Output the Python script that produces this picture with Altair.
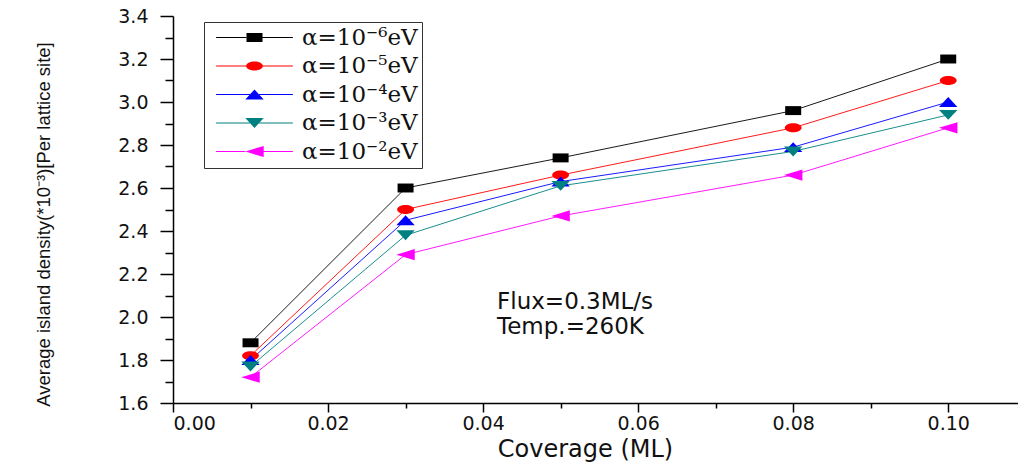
import altair as alt
import pandas as pd

# Coverage values (ML) at which island density was sampled
coverage = [0.01, 0.03, 0.05, 0.08, 0.10]

# Series labels (diffusion barrier modifier alpha)
series = ["α=10⁻⁶eV", "α=10⁻⁵eV", "α=10⁻⁴eV", "α=10⁻³eV", "α=10⁻²eV"]

# Average island density (*10^-3 per lattice site) per series
dens_1e6 = [1.88, 2.60, 2.74, 2.96, 3.20]
dens_1e5 = [1.82, 2.50, 2.66, 2.88, 3.10]
dens_1e4 = [1.80, 2.45, 2.63, 2.79, 3.00]
dens_1e3 = [1.77, 2.38, 2.61, 2.77, 2.94]
dens_1e2 = [1.72, 2.29, 2.47, 2.66, 2.88]

colors = ["#000000", "#ff0000", "#0000ff", "#008080", "#ff00ff"]

# Axis tick positions
x_major = [0.0, 0.02, 0.04, 0.06, 0.08, 0.10]
x_minor = [0.01, 0.03, 0.05, 0.07, 0.09]
y_major = [1.6, 1.8, 2.0, 2.2, 2.4, 2.6, 2.8, 3.0, 3.2, 3.4]
y_minor = [1.7, 1.9, 2.1, 2.3, 2.5, 2.7, 2.9, 3.1, 3.3]

# Annotation text
note_lines = ["Flux=0.3ML/s", "Temp.=260K"]
note_x = [0.0418, 0.0418]
note_y = [2.07, 1.953]

# Marker outlines (unit box, scaled by the symbol size)
marker_paths = [
    "M-1,-0.56H1V0.56H-1Z",
    "M-1.05,0A1.05,0.56 0 1,0 1.05,0A1.05,0.56 0 1,0 -1.05,0Z",
    "M0,-0.62L1.15,0.62H-1.15Z",
    "M0,0.62L1.15,-0.62H-1.15Z",
    "M-1.15,0L1.15,-0.7V0.7Z",
]
# Half-width of each marker along its centre line
marker_edges = [1.0, 1.05, 0.575, 0.575, 1.15]


def legend_symbol(path, edge, reach=4.8, half=0.065):
    # thin filled bars left and right of the marker stand in for the line
    left = f"M{-reach},{-half}H{-edge}V{half}H{-reach}Z"
    right = f"M{edge},{-half}H{reach}V{half}H{edge}Z"
    return left + right + path


legend_paths = [legend_symbol(p, e) for p, e in zip(marker_paths, marker_edges)]

all_dens = [dens_1e6, dens_1e5, dens_1e4, dens_1e3, dens_1e2]
rows = []
for name, vals in zip(series, all_dens):
    for c, v in zip(coverage, vals):
        rows.append({"coverage": c, "density": v, "series": name})
df = pd.DataFrame(rows)

notes = pd.DataFrame({"x": note_x, "y": note_y, "text": note_lines})

xscale = alt.Scale(domain=[0, 0.109], nice=False, zero=False)
yscale = alt.Scale(domain=[1.6, 3.4], nice=False, zero=False)
cscale = alt.Scale(domain=series, range=colors)

label_font = "DejaVu Sans"

x_axis_major = alt.Axis(
    orient="bottom", values=x_major, format=".2f", tickSize=9, tickWidth=1.5,
    domainWidth=1.5, domainColor="#000", tickColor="#000",
    labelFont=label_font, labelFontSize=19, labelColor="#111", labelPadding=2,
    title="Coverage (ML)", titleFont=label_font, titleFontSize=24,
    titleFontWeight="normal", titleColor="#111",
    titleX=412, titleY=46, titleBaseline="middle", titleAlign="center",
)
y_axis_major = alt.Axis(
    orient="left", values=y_major, format=".1f", tickSize=13, tickWidth=1.5,
    domainWidth=1.5, domainColor="#000", tickColor="#000",
    labelFont=label_font, labelFontSize=19, labelColor="#111", labelPadding=12,
    title="Average island density(*10⁻³)[Per lattice site]",
    titleFont="Liberation Sans", titleFontSize=18.5,
    titleFontWeight="normal", titleColor="#111",
    titleX=-130, titleY=208, titleBaseline="middle", titleAlign="center",
    titleAngle=270,
)
x_axis_minor = alt.Axis(
    orient="bottom", values=x_minor, tickSize=5, tickWidth=1.5,
    tickColor="#000", labels=False, domain=False, title=None,
)
y_axis_minor = alt.Axis(
    orient="left", values=y_minor, tickSize=8, tickWidth=1.5,
    tickColor="#000", labels=False, domain=False, title=None,
)

lines = alt.Chart(df).mark_line(strokeWidth=0.9).encode(
    x=alt.X("coverage:Q", scale=xscale, axis=x_axis_major),
    y=alt.Y("density:Q", scale=yscale, axis=y_axis_major),
    color=alt.Color("series:N", scale=cscale, legend=None),
    detail="series:N",
)

points = alt.Chart(df).mark_point(filled=True, opacity=1, size=256).encode(
    x=alt.X("coverage:Q", scale=xscale, axis=x_axis_minor),
    y=alt.Y("density:Q", scale=yscale, axis=y_axis_minor),
    color=alt.Color("series:N", scale=cscale, legend=None),
    shape=alt.Shape("series:N", scale=alt.Scale(domain=series, range=marker_paths), legend=None),
)

leg = alt.Legend(
    title=None, orient="none", legendX=31, legendY=6,
    strokeColor="#333", fillColor="#fff", padding=4,
    symbolOffset=35, labelOffset=36, rowPadding=4.5,
    labelFont="DejaVu Serif", labelFontSize=23, labelColor="#111", labelLimit=300,
    symbolSize=256, symbolStrokeWidth=0, symbolOpacity=1,
)
legend_layer = alt.Chart(df).mark_point(filled=True, opacity=0, size=256).encode(
    x=alt.X("coverage:Q", scale=xscale, axis=None),
    y=alt.Y("density:Q", scale=yscale, axis=None),
    color=alt.Color("series:N", scale=cscale, legend=leg),
    shape=alt.Shape("series:N", scale=alt.Scale(domain=series, range=legend_paths), legend=leg),
)

text = alt.Chart(notes).mark_text(
    align="left", baseline="middle", font=label_font, fontSize=23, color="#111"
).encode(
    x=alt.X("x:Q", scale=xscale, axis=None),
    y=alt.Y("y:Q", scale=yscale, axis=None),
    text="text:N",
)

chart = alt.layer(lines, points, legend_layer, text).resolve_scale(
    shape="independent", color="independent"
).resolve_axis(
    x="independent", y="independent"
).properties(
    width=845, height=387,
    padding={"left": 173, "top": 16, "right": 0, "bottom": 62},
    autosize=alt.AutoSizeParams(type="none"),
    background="white",
).configure_view(stroke=None).configure_axis(grid=False)

chart.save("out.html", embed_options={"renderer": "svg", "actions": False})
